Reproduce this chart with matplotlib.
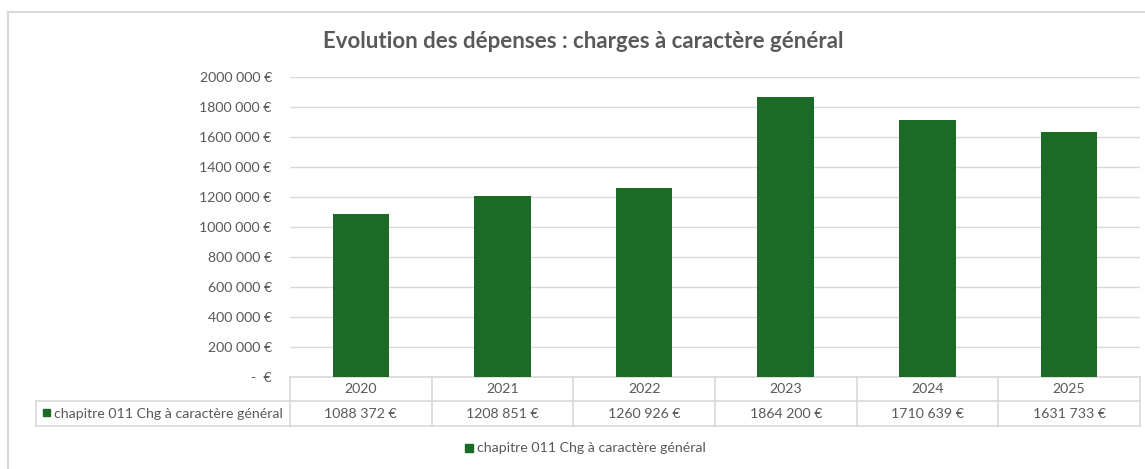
import matplotlib
matplotlib.use("Agg")
import matplotlib.pyplot as plt
from matplotlib.transforms import blended_transform_factory
from matplotlib.patches import Rectangle

# ---- data ----
years = ["2020", "2021", "2022", "2023", "2024", "2025"]
values = [1088372, 1208851, 1260926, 1864200, 1710639, 1631733]
value_labels = ["1088 372 €", "1208 851 €", "1260 926 €", "1864 200 €", "1710 639 €", "1631 733 €"]
series_name = "chapitre 011 Chg à caractère général"
title = "Evolution des dépenses : charges à caractère général"
yticks = [0, 200000, 400000, 600000, 800000, 1000000, 1200000, 1400000, 1600000, 1800000, 2000000]
ytick_labels = ["-  €", "200 000 €", "400 000 €", "600 000 €", "800 000 €", "1000 000 €",
                "1200 000 €", "1400 000 €", "1600 000 €", "1800 000 €", "2000 000 €"]

# ---- style ----
W, H = 1145, 469
GREEN = "#1b6b27"
GRID = "#d9d9d9"
TXT = "#595959"
FS = 10.2
plt.rcParams["font.family"] = ["Lato", "DejaVu Sans"]

fig = plt.figure(figsize=(W / 100, H / 100), dpi=100)
fig.patch.set_facecolor("white")

# overlay axes in pixel coordinates
ov = fig.add_axes([0, 0, 1, 1], zorder=0)
ov.set_xlim(0, W)
ov.set_ylim(H, 0)
ov.axis("off")

# plot area
L, R, T, B = 290, 1140, 77, 377
ax = fig.add_axes([L / W, (H - B) / H, (R - L) / W, (B - T) / H], zorder=1)
ax.patch.set_alpha(0)
x = list(range(len(years)))
ax.bar(x, values, width=0.4, color=GREEN, zorder=3)
ax.set_xlim(-0.5, len(years) - 0.5)
ax.set_ylim(0, 2000000)
ax.set_yticks(yticks)
ax.set_yticklabels(ytick_labels, color=TXT, fontsize=FS)
ax.tick_params(axis="y", length=0, pad=13)
ax.set_xticks([])
ax.grid(axis="y", color=GRID, linewidth=1, zorder=0)
for s in ax.spines.values():
    s.set_visible(False)

# outer border (partial, as in reference)
ov.plot([7.5, 7.5], [H, 12.5], color=GRID, lw=1.5)
ov.plot([7.5, W], [12.5, 12.5], color=GRID, lw=1.5)

# title
ov.text(583, 42, title, ha="center", va="center", fontsize=16, fontweight="bold", color=TXT)

# data table
tr = blended_transform_factory(ax.transData, ov.transData)
r0, r1, r2 = B, 401, 426
n = len(years)
lc = dict(color=GRID, lw=1.2, clip_on=False)
ov.plot([L, R], [r0, r0], **lc)
ov.plot([36, R], [r1, r1], **lc)
ov.plot([36, R], [r2, r2], **lc)
ov.plot([36, 36], [r1, r2], **lc)
for i in range(n + 1):
    ov.plot([i - 0.5, i - 0.5], [r0, r2], transform=tr, **lc)
for i in range(n):
    ov.text(i, (r0 + r1) / 2, years[i], transform=tr, ha="center", va="center", fontsize=FS, color=TXT)
    ov.text(i, (r1 + r2) / 2, value_labels[i], transform=tr, ha="center", va="center", fontsize=FS, color=TXT)
ov.add_patch(Rectangle((43, 409.5), 7, 7, color=GREEN))
ov.text(54, (r1 + r2) / 2, series_name, ha="left", va="center", fontsize=FS, color=TXT)

# legend
ov.add_patch(Rectangle((465, 444), 8, 8, color=GREEN))
ov.text(477, 448, series_name, ha="left", va="center", fontsize=FS, color=TXT)

fig.savefig("out.png", dpi=100, facecolor="white")
